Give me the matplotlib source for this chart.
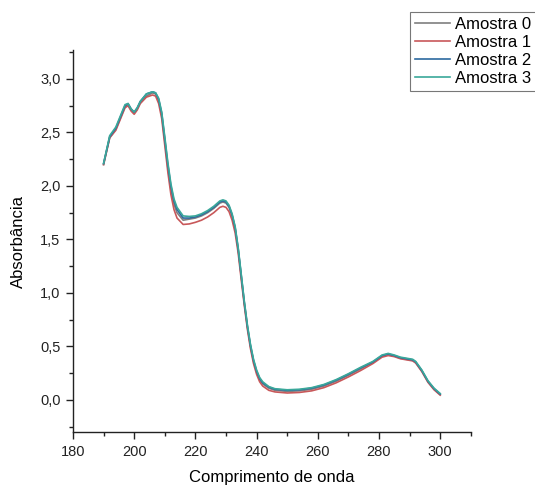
import matplotlib.pyplot as plt
from matplotlib.ticker import MultipleLocator, FuncFormatter

# UV spectra
wavelength = [190, 192, 194, 196, 197, 198, 199, 200, 201, 202, 204, 206, 207, 208,
              209, 210, 211, 212, 213, 214, 216, 218, 220, 222, 224, 226, 228, 229,
              230, 231, 232, 233, 234, 235, 236, 237, 238, 239, 240, 241, 242, 244,
              246, 248, 250, 254, 258, 262, 266, 270, 274, 278, 281, 283, 285, 287,
              289, 291, 292, 294, 296, 298, 300]

amostra_0 = [2.20, 2.45, 2.53, 2.67, 2.74, 2.76, 2.71, 2.68, 2.72, 2.78, 2.84, 2.87, 2.86, 2.80,
             2.66, 2.42, 2.17, 1.97, 1.83, 1.75, 1.68, 1.69, 1.70, 1.72, 1.75, 1.79, 1.84, 1.85,
             1.84, 1.80, 1.72, 1.60, 1.40, 1.15, 0.90, 0.68, 0.50, 0.36, 0.26, 0.19, 0.15, 0.11,
             0.09, 0.085, 0.08, 0.085, 0.10, 0.13, 0.175, 0.23, 0.29, 0.35, 0.41, 0.425, 0.41, 0.39,
             0.38, 0.37, 0.35, 0.27, 0.17, 0.10, 0.05]

amostra_1 = [2.20, 2.45, 2.52, 2.66, 2.73, 2.75, 2.70, 2.67, 2.71, 2.77, 2.83, 2.85, 2.84, 2.77,
             2.63, 2.38, 2.13, 1.92, 1.78, 1.70, 1.64, 1.645, 1.66, 1.68, 1.71, 1.75, 1.80, 1.81,
             1.80, 1.76, 1.68, 1.56, 1.37, 1.12, 0.88, 0.66, 0.48, 0.34, 0.24, 0.17, 0.13, 0.09,
             0.075, 0.07, 0.065, 0.07, 0.085, 0.115, 0.16, 0.215, 0.275, 0.34, 0.40, 0.415, 0.405, 0.385,
             0.375, 0.365, 0.345, 0.265, 0.165, 0.095, 0.045]

amostra_2 = [2.21, 2.46, 2.54, 2.68, 2.75, 2.77, 2.72, 2.69, 2.73, 2.79, 2.86, 2.88, 2.87, 2.81,
             2.68, 2.44, 2.20, 2.00, 1.86, 1.78, 1.70, 1.70, 1.71, 1.73, 1.76, 1.80, 1.85, 1.86,
             1.85, 1.81, 1.73, 1.61, 1.41, 1.16, 0.91, 0.69, 0.51, 0.37, 0.27, 0.20, 0.16, 0.12,
             0.10, 0.095, 0.09, 0.095, 0.11, 0.14, 0.185, 0.24, 0.30, 0.355, 0.415, 0.43, 0.415, 0.395,
             0.385, 0.375, 0.355, 0.275, 0.175, 0.105, 0.055]

amostra_3 = [2.21, 2.47, 2.55, 2.69, 2.76, 2.77, 2.72, 2.69, 2.73, 2.79, 2.86, 2.88, 2.87, 2.82,
             2.69, 2.46, 2.22, 2.02, 1.88, 1.80, 1.72, 1.715, 1.72, 1.74, 1.77, 1.81, 1.86, 1.87,
             1.86, 1.82, 1.74, 1.62, 1.42, 1.17, 0.92, 0.70, 0.52, 0.38, 0.28, 0.21, 0.17, 0.125,
             0.105, 0.10, 0.095, 0.10, 0.115, 0.145, 0.19, 0.245, 0.305, 0.36, 0.42, 0.435, 0.42, 0.40,
             0.39, 0.38, 0.36, 0.28, 0.18, 0.11, 0.06]

series = [
    ("Amostra 0", amostra_0, "#7f7f7f"),
    ("Amostra 1", amostra_1, "#c8585a"),
    ("Amostra 2", amostra_2, "#2c6aa0"),
    ("Amostra 3", amostra_3, "#3aa89a"),
]

plt.rcParams["font.family"] = ["Liberation Sans", "DejaVu Sans"]

fig = plt.figure(figsize=(5.35, 4.86), dpi=100)
ax = fig.add_axes([0.1364, 0.111, 0.7436, 0.786])

for label, values, color in series:
    ax.plot(wavelength, values, color=color, linewidth=1.2, label=label)

ax.set_xlim(180, 310)
ax.set_ylim(-0.3, 3.27)
ax.xaxis.set_major_locator(MultipleLocator(20))
ax.xaxis.set_minor_locator(MultipleLocator(10))
ax.yaxis.set_major_locator(MultipleLocator(0.5))
ax.yaxis.set_minor_locator(MultipleLocator(0.25))
ax.yaxis.set_major_formatter(FuncFormatter(lambda v, p: f"{v:.1f}".replace(".", ",")))

for side in ("top", "right"):
    ax.spines[side].set_visible(False)
for side in ("left", "bottom"):
    ax.spines[side].set_linewidth(1.0)
    ax.spines[side].set_color("#222222")

ax.tick_params(which="major", direction="out", length=5, width=1, labelsize=10.5,
               colors="#222222", pad=4)
ax.tick_params(which="minor", direction="out", length=3, width=1, colors="#222222")

ax.set_xlabel("Comprimento de onda", fontsize=12, labelpad=8)
ax.set_ylabel("Absorbância", fontsize=12, labelpad=10)

# legend box runs off the right edge, as in the original; text stays inside
leg = fig.legend(loc="upper left", bbox_to_anchor=(410 / 535, 1 - 12 / 486),
                 fontsize=12, frameon=True, fancybox=False, borderpad=0.3,
                 handlelength=2.1, handletextpad=0.3, labelspacing=0.18,
                 borderaxespad=0)
leg.get_frame().set_edgecolor("#555555")
leg.get_frame().set_linewidth(0.8)

fig.savefig("out.png", dpi=100)
